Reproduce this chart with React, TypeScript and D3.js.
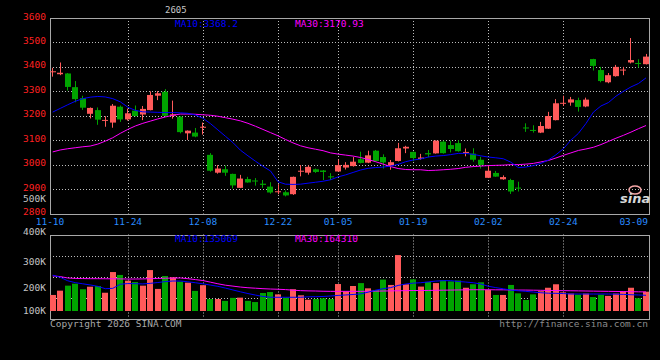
import React from "react";
import * as d3 from "d3";

// ---- data ----
const OPEN = [3378,3370,3373,3317,3272,3208,3223,3180,3172,3237,3185,3221,3205,3223,3282,3298,3200,3196,3128,3131,3152,3040,2967,2981,2962,2905,2941,2935,2922,2910,2888,2887,2879,2973,2967,2981,2976,2952,2972,2988,2994,3022,3008,3057,3031,2996,3015,3066,3052,3023,3047,3046,3094,3080,3088,3048,3045,3020,2946,2966,2940,2937,2906,3152,3142,3131,3147,3182,3250,3254,3264,3238,3432,3387,3337,3362,3386,3418,3416,3411];
const HIGH = [3396,3418,3375,3342,3282,3234,3234,3198,3248,3242,3229,3242,3240,3300,3301,3309,3262,3198,3140,3150,3172,3047,2998,2996,2963,2958,2950,2945,2937,2928,2920,2894,2951,2998,2997,2984,2978,2965,3021,3010,3031,3053,3057,3060,3042,3019,3089,3077,3054,3044,3060,3099,3098,3098,3100,3066,3067,3032,2994,2974,2956,2942,2930,3169,3161,3175,3216,3268,3282,3277,3274,3274,3433,3400,3375,3408,3400,3518,3431,3453];
const LOW = [3360,3366,3303,3255,3224,3189,3163,3155,3151,3175,3180,3197,3182,3222,3264,3196,3188,3128,3101,3112,3123,2971,2963,2954,2903,2904,2926,2914,2905,2881,2879,2870,2876,2952,2959,2966,2937,2937,2971,2980,2992,3005,3006,3012,2984,2979,3013,3047,3014,3020,3030,3045,3045,3050,3053,3034,3012,2984,2945,2950,2938,2880,2890,3134,3131,3129,3146,3181,3240,3241,3217,3235,3385,3337,3333,3360,3366,3414,3397,3410];
const CLOSE = [3382,3376,3318,3268,3233,3232,3184,3183,3241,3185,3210,3199,3228,3285,3292,3200,3206,3133,3139,3115,3155,2975,2984,2967,2915,2943,2927,2932,2917,2886,2891,2874,2950,2975,2991,2970,2970,2950,2998,2999,3012,3007,3038,3015,3009,3010,3067,3073,3027,3029,3042,3098,3047,3064,3055,3052,3020,2999,2975,2951,2949,2890,2902,3150,3139,3158,3199,3251,3253,3267,3236,3266,3404,3342,3366,3400,3389,3428,3413,3442];
const VOLUME_K = [138,175,218,235,187,209,215,157,335,310,261,249,218,352,190,301,290,252,244,173,222,103,103,87,113,115,87,77,155,163,143,115,187,135,97,103,109,103,232,170,215,240,195,181,270,224,481,230,272,210,250,240,265,255,262,200,230,247,181,138,138,224,152,95,143,170,200,230,160,150,140,150,120,140,130,150,170,200,110,166];
const MA10 = [3215,3230,3245,3259,3270,3276,3279,3277,3270,3257,3235,3222,3216,3215,3214,3213,3213,3212,3210,3203,3190,3168,3142,3116,3090,3059,3036,3014,2993,2974,2930,2920,2919,2920,2924,2928,2932,2938,2950,2958,2968,2978,2985,2988,2990,2994,3001,3012,3019,3023,3031,3035,3037,3041,3046,3046,3042,3036,3031,3028,3024,3010,2988,2990,2996,3005,3019,3040,3065,3100,3128,3168,3215,3240,3254,3280,3300,3318,3332,3355];
const MA30 = [3052,3060,3065,3069,3073,3076,3084,3096,3110,3128,3144,3158,3169,3178,3187,3195,3202,3207,3207,3206,3204,3202,3198,3192,3186,3179,3169,3157,3144,3131,3118,3103,3089,3077,3069,3063,3057,3048,3043,3039,3035,3029,3021,3012,3002,2992,2984,2980,2979,2979,2976,2977,2979,2981,2984,2989,2992,2994,2996,2997,2998,3000,3000,3002,3005,3011,3017,3027,3038,3048,3058,3064,3071,3082,3095,3108,3120,3133,3147,3160];
const VOL_MA10_K = [308,290,260,244,234,224,212,192,195,230,236,235,233,238,245,253,258,258,251,243,234,223,212,197,181,165,150,137,125,118,118,118,118,118,122,123,125,129,134,138,142,147,162,179,192,201,220,232,240,243,250,257,261,261,254,249,243,232,213,201,191,180,174,169,163,157,153,152,150,146,146,146,146,146,146,145,143,140,138,135];
const VOL_MA30_K = [302,296,284,280,279,278,278,277,277,276,275,275,276,278,280,282,283,284,278,270,262,248,234,222,214,206,200,196,192,189,187,184,179,175,173,172,170,169,169,169,169,169,170,171,172,173,174,175,176,176,177,178,179,180,181,182,183,183,183,182,182,181,180,180,179,178,177,176,175,174,173,172,171,170,169,168,167,166,165,164];

const PRICE_TICKS = [3600, 3500, 3400, 3300, 3200, 3100, 3000, 2900, 2800];
const VOL_TICKS_K = [500, 400, 300, 200, 100];
const DATE_TICK_INDEX = [0, 10, 20, 30, 38, 48, 58, 68, 79];
const DATE_TICK_LABELS = ["11-10", "11-24", "12-08", "12-22", "01-05", "01-19", "02-02", "02-24", "03-09"];
const MA_LABELS = ["MA10:3368.2", "MA30:3170.93"];
const VOL_MA_LABELS = ["MA10:135069", "MA30:164310"];

// ---- layout ----
const W = 660, H = 360;
const L = 50, R = 649;
const P_TOP = 18, P_BOT = 213.5;
const V_TOP = 234.5, V_BOT = 318.5;

const RED = "#ff5a5a";
const GREEN = "#00a400";
const GRID = "#bdbdbd";
const BORDER = "#a8a8a8";
const FONT = "'DejaVu Sans Mono', 'Liberation Mono', monospace";
const FS = 9.5;

export default function App() {
  const n = CLOSE.length;
  const x = d3.scaleLinear().domain([0, n - 1]).range([52.7, 646]);
  const y = d3.scaleLinear().domain([2800, 3600]).range([P_BOT, P_TOP]);
  const yv = d3.scaleLinear().domain([0, 658]).range([311, V_TOP]);
  const yvLabel = d3.scalePow().exponent(1.35).domain([100, 400]).range([310, 231]);

  const lineP = (arr: number[]) =>
    d3.line<number>().x((_, i) => x(i)).y((d) => y(d))(arr) || "";
  const lineV = (arr: number[]) =>
    d3.line<number>().x((_, i) => x(i)).y((d) => yv(d))(arr) || "";

  const crisp = (v: number) => Math.round(v) + 0.5;
  const volGrid = [1, 2, 3].map((k) => V_TOP + (k * (V_BOT - V_TOP)) / 4);

  return (
    <svg width={W} height={H} style={{ position: "absolute", left: 0, top: 0, background: "#000" }}
      fontFamily={FONT}>
      <rect x={0} y={0} width={W} height={H} fill="#000" />

      {/* title */}
      <text x={165} y={9.5} fontSize={9} fill="#c8c8c8" dominantBaseline="central">2605</text>

      {/* price grid */}
      {PRICE_TICKS.slice(1, -1).map((t) => (
        <line key={"pg" + t} x1={L} x2={R} y1={crisp(y(t))} y2={crisp(y(t))}
          stroke={GRID} strokeDasharray="1,2" />
      ))}
      {DATE_TICK_INDEX.slice(1, -1).map((i) => (
        <g key={"vg" + i}>
          <line x1={crisp(x(i))} x2={crisp(x(i))} y1={P_TOP} y2={P_BOT} stroke={GRID} strokeDasharray="1,2" />
          <line x1={crisp(x(i))} x2={crisp(x(i))} y1={V_TOP} y2={V_BOT} stroke={GRID} strokeDasharray="1,2" />
        </g>
      ))}
      {volGrid.map((g, k) => (
        <line key={"vh" + k} x1={L} x2={R} y1={crisp(g)} y2={crisp(g)} stroke={GRID} strokeDasharray="1,2" />
      ))}

      {/* borders */}
      <rect x={L + 0.5} y={crisp(P_TOP)} width={R - L} height={Math.round(P_BOT) - Math.round(P_TOP)}
        fill="none" stroke={BORDER} />
      <rect x={L + 0.5} y={crisp(V_TOP)} width={R - L} height={Math.round(V_BOT) - Math.round(V_TOP)}
        fill="none" stroke={BORDER} />

      {/* price axis labels */}
      {PRICE_TICKS.map((t) => (
        <text key={"pl" + t} x={46} y={y(t) - 1.9} fontSize={FS} fill="#ff2020"
          textAnchor="end" dominantBaseline="central">{t}</text>
      ))}
      {/* volume axis labels */}
      {VOL_TICKS_K.map((t) => (
        <text key={"vl" + t} x={46} y={yvLabel(t)} fontSize={FS} fill="#c4c4c4"
          textAnchor="end" dominantBaseline="central">{t + "K"}</text>
      ))}
      {/* date labels */}
      {DATE_TICK_INDEX.map((i, k) => {
        const first = k === 0;
        const last = k === DATE_TICK_INDEX.length - 1;
        return (
          <text key={"dl" + i} x={first ? L : last ? 648 : x(i)} y={221.4} fontSize={FS} fill="#2a8cff"
            textAnchor={last ? "end" : "middle"} dominantBaseline="central">{DATE_TICK_LABELS[k]}</text>
        );
      })}

      {/* volume bars */}
      {VOLUME_K.map((v, i) => (
        <rect key={"vb" + i} x={Math.round(x(i) - 3)} y={yv(v)} width={6} height={yv(0) - yv(v)}
          fill={CLOSE[i] >= OPEN[i] ? RED : GREEN} />
      ))}
      <path d={lineV(VOL_MA30_K)} fill="none" stroke="#ff00ff" strokeWidth={1} />
      <path d={lineV(VOL_MA10_K)} fill="none" stroke="#0000ff" strokeWidth={1} />

      {/* candles */}
      {CLOSE.map((c, i) => {
        const o = OPEN[i];
        const up = c >= o;
        const col = up ? RED : GREEN;
        const cx = x(i);
        const top = y(Math.max(o, c));
        const bh = Math.max(1, Math.abs(y(o) - y(c)));
        return (
          <g key={"c" + i}>
            <line x1={crisp(cx - 0.5)} x2={crisp(cx - 0.5)} y1={y(HIGH[i])} y2={y(LOW[i])} stroke={col} />
            <rect x={Math.round(cx - 3)} y={top} width={6} height={bh} fill={col} />
          </g>
        );
      })}
      <path d={lineP(MA30)} fill="none" stroke="#ff00ff" strokeWidth={1} />
      <path d={lineP(MA10)} fill="none" stroke="#0000ff" strokeWidth={1} />

      {/* MA legends */}
      <text x={175} y={23.3} fontSize={FS} fill="#0000ff" dominantBaseline="central">{MA_LABELS[0]}</text>
      <text x={295} y={23.3} fontSize={FS} fill="#ff00ff" dominantBaseline="central">{MA_LABELS[1]}</text>
      <text x={175} y={238.3} fontSize={FS} fill="#0000ff" dominantBaseline="central">{VOL_MA_LABELS[0]}</text>
      <text x={295} y={238.3} fontSize={FS} fill="#ff00ff" dominantBaseline="central">{VOL_MA_LABELS[1]}</text>

      {/* sina mark */}
      <ellipse cx={635} cy={190} rx={6} ry={4} fill="none" stroke="#f4a6a6" strokeWidth={1.5} />
      <text x={620} y={203} fontSize={13} fontWeight="bold" fontStyle="italic" fill="#d8d8d8"
        fontFamily="'DejaVu Sans', sans-serif">sina</text>

      {/* footer */}
      <text x={50} y={323.7} fontSize={FS} fill="#a8a8a8" dominantBaseline="central">Copyright 2026 SINA.COM</text>
      <text x={648} y={323.7} fontSize={FS} fill="#8a8a8a" textAnchor="end" dominantBaseline="central">http://finance.sina.com.cn</text>
    </svg>
  );
}
